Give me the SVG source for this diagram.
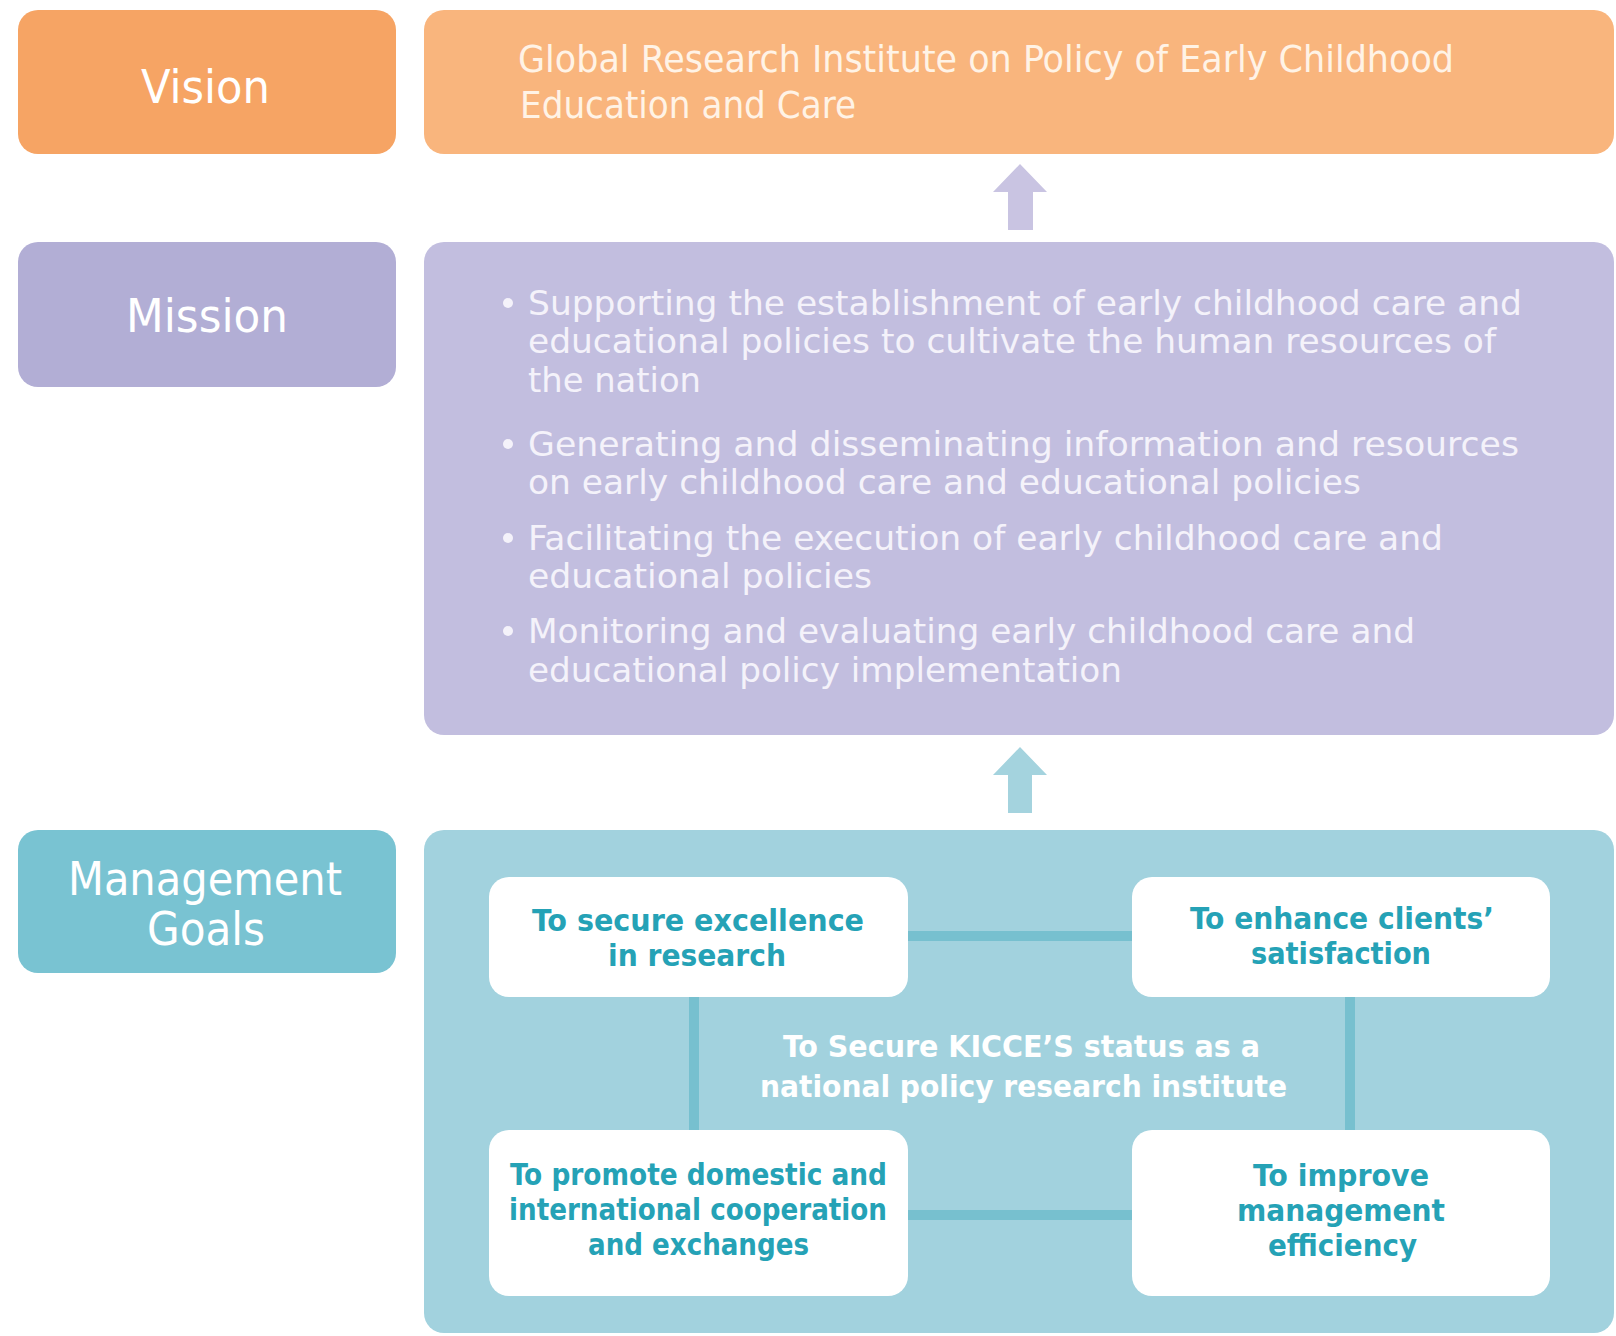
<svg xmlns="http://www.w3.org/2000/svg" width="1616" height="1336" viewBox="0 0 1616 1336">
<style>
.t{font-family:"DejaVu Sans Condensed","Liberation Sans Narrow","DejaVu Sans",sans-serif;}
.lbl{font-size:46px;fill:#ffffff;}
.body{font-size:38px;}
.mb{font-size:34px;}
.vis{fill:#fff3e6;}
.mis{fill:#f4f2fa;}
.goal{font-size:31px;font-weight:bold;fill:#25a2b6;}
.ctr{font-size:31px;font-weight:bold;fill:#ffffff;}
.wbox{fill:#ffffff;}
.conn{stroke:#77c0cf;stroke-width:10;fill:none;}
</style>
<rect width="1616" height="1336" fill="#ffffff"/>

<g id="vision-label">
<rect x="18" y="10" width="378" height="144" rx="20" fill="#f6a464"/>
<text class="t lbl" x="141" y="103" textLength="129" lengthAdjust="spacingAndGlyphs">Vision</text>
</g>
<g id="vision-content">
<rect x="424" y="10" width="1190" height="144" rx="20" fill="#f9b57d"/>
<text class="t body vis" x="518" y="72" textLength="936" lengthAdjust="spacingAndGlyphs">Global Research Institute on Policy of Early Childhood</text>
<text class="t body vis" x="520" y="118" textLength="336" lengthAdjust="spacingAndGlyphs">Education and Care</text>
</g>

<g id="mission-label">
<rect x="18" y="242" width="378" height="145" rx="20" fill="#b2aed5"/>
<text class="t lbl" x="126" y="332" textLength="162" lengthAdjust="spacingAndGlyphs">Mission</text>
</g>
<g id="mission-content">
<rect x="424" y="242" width="1190" height="493" rx="20" fill="#c2bedf"/>
<g class="mis">
<circle cx="508" cy="303" r="5"/>
<circle cx="508" cy="444" r="5"/>
<circle cx="508" cy="538" r="5"/>
<circle cx="508" cy="631" r="5"/>
</g>
<text class="t mb mis" x="528" y="315" textLength="994" lengthAdjust="spacingAndGlyphs">Supporting the establishment of early childhood care and</text>
<text class="t mb mis" x="528" y="353" textLength="968" lengthAdjust="spacingAndGlyphs">educational policies to cultivate the human resources of</text>
<text class="t mb mis" x="528" y="392" textLength="173" lengthAdjust="spacingAndGlyphs">the nation</text>
<text class="t mb mis" x="528" y="456" textLength="991" lengthAdjust="spacingAndGlyphs">Generating and disseminating information and resources</text>
<text class="t mb mis" x="528" y="494" textLength="833" lengthAdjust="spacingAndGlyphs">on early childhood care and educational policies</text>
<text class="t mb mis" x="528" y="550" textLength="915" lengthAdjust="spacingAndGlyphs">Facilitating the execution of early childhood care and</text>
<text class="t mb mis" x="528" y="588" textLength="344" lengthAdjust="spacingAndGlyphs">educational policies</text>
<text class="t mb mis" x="528" y="643" textLength="887" lengthAdjust="spacingAndGlyphs">Monitoring and evaluating early childhood care and</text>
<text class="t mb mis" x="528" y="682" textLength="594" lengthAdjust="spacingAndGlyphs">educational policy implementation</text>
</g>

<g id="mgmt-label">
<rect x="18" y="830" width="378" height="143" rx="20" fill="#79c3d2"/>
<text class="t lbl" x="68" y="895" textLength="274" lengthAdjust="spacingAndGlyphs">Management</text>
<text class="t lbl" x="147" y="945" textLength="118" lengthAdjust="spacingAndGlyphs">Goals</text>
</g>
<g id="mgmt-content">
<rect x="424" y="830" width="1190" height="503" rx="20" fill="#a2d2de"/>
<text class="t ctr" x="783" y="1057" textLength="477" lengthAdjust="spacingAndGlyphs">To Secure KICCE’S status as a</text>
<text class="t ctr" x="760" y="1097" textLength="527" lengthAdjust="spacingAndGlyphs">national policy research institute</text>
</g>

<g id="connectors">
<line class="conn" x1="905" y1="936" x2="1135" y2="936"/>
<line class="conn" x1="905" y1="1215" x2="1135" y2="1215"/>
<line class="conn" x1="694" y1="994" x2="694" y2="1133"/>
<line class="conn" x1="1350" y1="994" x2="1350" y2="1133"/>
<polygon points="1020,164 1047,192 1033,192 1033,230 1008,230 1008,192 993,192" fill="#c9c4e2"/>
<polygon points="1020,747 1047,775 1032,775 1032,813 1008,813 1008,775 993,775" fill="#a4d3de"/>
</g>

<g id="goal-research">
<rect class="wbox" x="489" y="877" width="419" height="120" rx="20"/>
<text class="t goal" x="532" y="931" textLength="332" lengthAdjust="spacingAndGlyphs">To secure excellence</text>
<text class="t goal" x="608" y="966" textLength="178" lengthAdjust="spacingAndGlyphs">in research</text>
</g>
<g id="goal-clients">
<rect class="wbox" x="1132" y="877" width="418" height="120" rx="20"/>
<text class="t goal" x="1190" y="929" textLength="304" lengthAdjust="spacingAndGlyphs">To enhance clients’</text>
<text class="t goal" x="1251" y="964" textLength="180" lengthAdjust="spacingAndGlyphs">satisfaction</text>
</g>
<g id="goal-cooperation">
<rect class="wbox" x="489" y="1130" width="419" height="166" rx="20"/>
<text class="t goal" x="510" y="1185" textLength="377" lengthAdjust="spacingAndGlyphs">To promote domestic and</text>
<text class="t goal" x="509" y="1220" textLength="378" lengthAdjust="spacingAndGlyphs">international cooperation</text>
<text class="t goal" x="588" y="1255" textLength="221" lengthAdjust="spacingAndGlyphs">and exchanges</text>
</g>
<g id="goal-efficiency">
<rect class="wbox" x="1132" y="1130" width="418" height="166" rx="20"/>
<text class="t goal" x="1253" y="1186" textLength="176" lengthAdjust="spacingAndGlyphs">To improve</text>
<text class="t goal" x="1237" y="1221" textLength="208" lengthAdjust="spacingAndGlyphs">management</text>
<text class="t goal" x="1268" y="1256" textLength="149" lengthAdjust="spacingAndGlyphs">efficiency</text>
</g>
</svg>
